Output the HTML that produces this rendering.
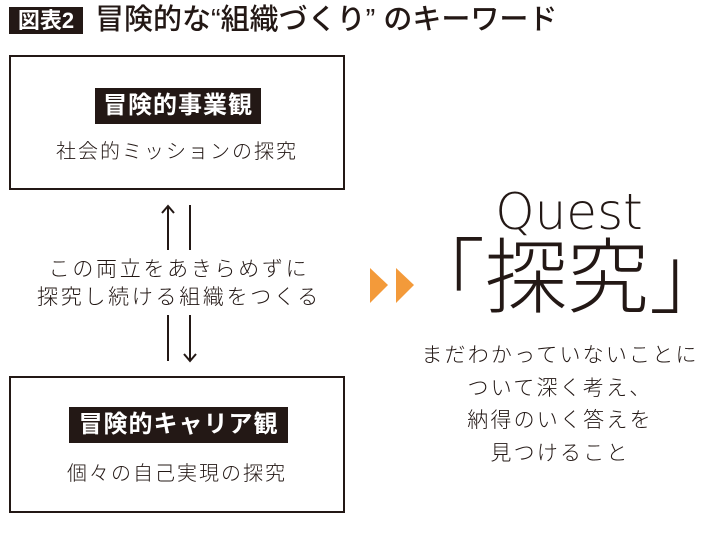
<!DOCTYPE html>
<html><head><meta charset="utf-8"><style>
body{margin:0;width:710px;height:534px;background:#fff;position:relative;overflow:hidden;font-family:"Liberation Sans","Noto Sans CJK JP",sans-serif;color:#231815}
.a{position:absolute;white-space:nowrap}
.box{position:absolute;left:9px;width:332px;border:2px solid #231815}
.lab{position:absolute;background:#231815;color:#fff;font-weight:bold;font-size:24px;line-height:36px;text-align:center;letter-spacing:1px}
.sub{position:absolute;left:0;width:100%;text-align:center;font-size:20px;font-weight:300;letter-spacing:2px}
.c{text-align:center;font-weight:300}
</style></head><body>
<div class="a" style="left:9px;top:7px;width:74px;height:27px;background:#231815;color:#fff;font-weight:bold;font-size:22px;line-height:27px;text-align:center">図表2</div>
<div class="a" style="left:95px;top:2px;font-size:29px;line-height:36px;font-weight:500">冒険的な“組織づくり” のキーワード</div>

<div class="box" style="top:55px;height:131px">
 <div class="lab" style="left:84px;top:31px;width:166px">冒険的事業観</div>
 <div class="sub" style="top:78px">社会的ミッションの探究</div>
</div>
<div class="box" style="top:376px;height:133px">
 <div class="lab" style="left:58px;top:29px;width:219px">冒険的キャリア観</div>
 <div class="sub" style="top:79px">個々の自己実現の探究</div>
</div>

<svg class="a" style="left:0;top:0" width="710" height="534">
 <g stroke="#231815" stroke-width="2" fill="none">
  <line x1="168" y1="206" x2="168" y2="250"/><polyline points="162,213 168,206 174,213"/>
  <line x1="190" y1="205" x2="190" y2="250"/>
  <line x1="168" y1="315" x2="168" y2="361"/>
  <line x1="190" y1="315" x2="190" y2="361"/><polyline points="184,354 190,361 196,354"/>
 </g>
 <polygon points="370,268 388,285 370,303" fill="#f39a3a"/>
 <polygon points="396,268 414,285 396,303" fill="#f39a3a"/>
</svg>

<div class="a c" style="left:0;width:358px;top:256px;font-size:21px;line-height:28px;letter-spacing:2.7px">この両立をあきらめずに<br>探究し続ける組織をつくる</div>

<div class="a c" style="left:459px;width:220px;top:182px;font-size:50px;line-height:60px;font-family:'DejaVu Sans',sans-serif;font-weight:200">Quest</div>
<div class="a c" style="left:403px;width:250px;top:232px;font-size:82px;line-height:94px;font-weight:300">「探究」</div>
<div class="a c" style="left:400px;width:320px;top:340px;font-size:21px;line-height:32.5px;letter-spacing:2.2px">まだわかっていないことに<br>ついて深く考え、<br>納得のいく答えを<br>見つけること</div>
</body></html>
